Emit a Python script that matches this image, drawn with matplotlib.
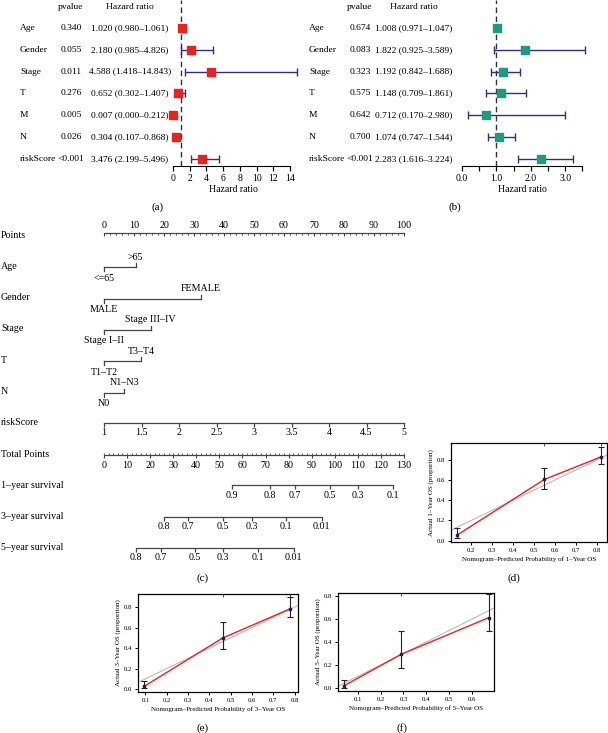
import numpy as np
import matplotlib
matplotlib.use('Agg')
import matplotlib.pyplot as plt
import matplotlib.transforms as mtransforms

plt.rcParams['font.family'] = ['Liberation Serif', 'DejaVu Serif']

# ---- forest plot data
variables = ['Age', 'Gender', 'Stage', 'T', 'M', 'N', 'riskScore']
a_pvalue = ['0.340', '0.055', '0.011', '0.276', '0.005', '0.026', '<0.001']
a_hr = [1.020, 2.180, 4.588, 0.652, 0.007, 0.304, 3.476]
a_low = [0.980, 0.985, 1.418, 0.302, 0.000, 0.107, 2.199]
a_high = [1.061, 4.826, 14.843, 1.407, 0.212, 0.868, 5.496]

b_pvalue = ['0.674', '0.083', '0.323', '0.575', '0.642', '0.700', '<0.001']
b_hr = [1.008, 1.822, 1.192, 1.148, 0.712, 1.074, 2.283]
b_low = [0.971, 0.925, 0.842, 0.709, 0.170, 0.747, 1.616]
b_high = [1.047, 3.589, 1.688, 1.861, 2.980, 1.544, 3.224]

# ---- nomogram data (points)
cat_names = ['Age', 'Gender', 'Stage', 'T', 'N']
cat_low = ['<=65', 'MALE', 'Stage I\u2013II', 'T1\u2013T2', 'N0']
cat_high = ['>65', 'FEMALE', 'Stage III\u2013IV', 'T3\u2013T4', 'N1\u2013N3']
cat_points = [10.5, 32.3, 15.6, 12.3, 6.7]
risk_ticks = [1, 1.5, 2, 2.5, 3, 3.5, 4, 4.5, 5]
surv_names = ['1\u2013year survival', '3\u2013year survival', '5\u2013year survival']
surv_labels = [['0.9', '0.8', '0.7', '0.5', '0.3', '0.1'],
               ['0.8', '0.7', '0.5', '0.3', '0.1', '0.01'],
               ['0.8', '0.7', '0.5', '0.3', '0.1', '0.01']]
surv_total = [[55.5, 71.9, 82.8, 97.9, 110.1, 125.2],
              [26.0, 36.4, 51.6, 64.1, 78.7, 94.3],
              [13.9, 24.6, 39.4, 51.4, 66.7, 82.3]]

# ---- calibration data
cal_pred = [[0.131, 0.548, 0.82], [0.093, 0.462, 0.78], [0.037, 0.29, 0.676]]
cal_obs = [[0.053, 0.605, 0.83], [0.025, 0.497, 0.783], [0.015, 0.293, 0.615]]
cal_lo = [[0.03, 0.508, 0.76], [0.01, 0.39, 0.70], [0.0, 0.176, 0.498]]
cal_hi = [[0.12, 0.723, 0.926], [0.081, 0.65, 0.894], [0.067, 0.498, 0.82]]
cal_year = ['1', '3', '5']

W, H = 608, 733
fig = plt.figure(figsize=(W / 100, H / 100), dpi=100)
FS = 6.8


def px_axes(l, t, r, b):
    return fig.add_axes([l / W, 1 - b / H, (r - l) / W, (b - t) / H])


def forest(ax, hr, low, high, pvals, color, xlab, xpv, xhr):
    n = len(variables)
    y = np.arange(n)
    ax.set_ylim(n - 1 + 0.32, -1.28)
    ax.errorbar(hr, y, xerr=[np.array(hr) - np.array(low), np.array(high) - np.array(hr)],
                fmt='none', ecolor='#2E2E8A', elinewidth=1, capsize=3, capthick=1,
                clip_on=False, zorder=2)
    ax.scatter(hr, y, marker='s', s=26, color=color, zorder=3, clip_on=False)
    ax.axvline(1, color='#333333', ls=(0, (4, 2.5)), lw=1, zorder=1)
    for s in ['top', 'right', 'left']:
        ax.spines[s].set_visible(False)
    ax.set_yticks([])
    ax.tick_params(axis='x', direction='out', length=3.5, width=0.9, labelsize=7, pad=2)
    ax.set_xlabel('Hazard ratio', fontsize=7, labelpad=2)
    tr = mtransforms.blended_transform_factory(fig.transFigure, ax.transData)
    ax.text(xpv / W, -0.96, 'pvalue', transform=tr, ha='center', va='center', fontsize=FS)
    ax.text(xhr / W, -0.96, 'Hazard ratio', transform=tr, ha='center', va='center', fontsize=FS)
    for i, v in enumerate(variables):
        ax.text(xlab / W, i, v, transform=tr, ha='left', va='center', fontsize=FS)
        ax.text(xpv / W, i, pvals[i], transform=tr, ha='center', va='center', fontsize=FS)
        ax.text(xhr / W, i, '%.3f (%.3f\u2013%.3f)' % (hr[i], low[i], high[i]),
                transform=tr, ha='center', va='center', fontsize=FS)


# (a)
axa = px_axes(168.8, 0, 298.4, 166)
axa.set_xlim(-0.5, 15)
forest(axa, a_hr, a_low, a_high, a_pvalue, '#E8231F', 20, 71, 130)
axa.set_xticks(np.arange(0, 15, 2))
axa.spines['bottom'].set_bounds(0, 14)

# (b)
axb = px_axes(455.1, 0, 589.3, 166)
axb.set_xlim(-0.2, 3.7)
forest(axb, b_hr, b_low, b_high, b_pvalue, '#1E9A7D', 309, 360, 414)
axb.set_xticks(np.arange(0, 3.6, 0.5))
axb.set_xticklabels(['0.0', '', '1.0', '', '2.0', '', '3.0', ''])
axb.spines['bottom'].set_bounds(0, 3.5)

# (c) nomogram
axc = px_axes(0, 212, 420, 568)
row_px = 31.3
p = 1 / row_px  # one pixel in row units
axc.set_xlim(-104 / 3, 316 / 3)
axc.set_ylim((568 - 235) / row_px, (212 - 235) / row_px)
axc.axis('off')
xl = -103 / 3
lw = 0.9
fs = 7.2
row_names = ['Points'] + cat_names + ['riskScore', 'Total Points'] + surv_names
for i, nm in enumerate(row_names):
    axc.text(xl, i, nm, ha='left', va='center', fontsize=fs)

# points axis
y0 = -2 * p
axc.plot([0, 100], [y0, y0], color='#444444', lw=lw)
axc.vlines(np.arange(0, 101, 2), y0, y0 + 2 * p, color='#444444', lw=0.6)
axc.vlines(np.arange(0, 101, 10), y0, y0 + 3 * p, color='#444444', lw=0.8)
for v in range(0, 101, 10):
    axc.text(v, y0 - 8 * p, str(v), ha='center', va='center', fontsize=fs)

# categorical rows
for i in range(len(cat_names)):
    r = i + 1 + p
    axc.plot([0, cat_points[i]], [r, r], color='#444444', lw=lw)
    axc.plot([0, 0], [r, r + 4 * p], color='#444444', lw=lw)
    axc.plot([cat_points[i]] * 2, [r, r - 4 * p], color='#444444', lw=lw)
    axc.text(0, r + 11 * p, cat_low[i], ha='center', va='center', fontsize=fs)
    axc.text(cat_points[i], r - 10 * p, cat_high[i], ha='center', va='center', fontsize=fs)

# riskScore
r = 6
rs_x = [(v - 1) * 25 for v in risk_ticks]
axc.plot([rs_x[0], rs_x[-1]], [r, r], color='#444444', lw=lw)
axc.vlines(rs_x, r, r + 4 * p, color='#444444', lw=lw)
for v, x in zip(risk_ticks, rs_x):
    axc.text(x, r + 10 * p, ('%g' % v), ha='center', va='center', fontsize=fs)

# total points
r = 7 + p
tp = 100 / 130
axc.plot([0, 100], [r, r], color='#444444', lw=lw)
axc.vlines(np.arange(0, 131, 2) * tp, r, r - 2.5 * p, color='#444444', lw=0.6)
axc.vlines(np.arange(0, 131, 10) * tp, r, r + 3 * p, color='#444444', lw=0.8)
for v in range(0, 131, 10):
    axc.text(v * tp, r + 10 * p, str(v), ha='center', va='center', fontsize=fs)

# survival rows
for k in range(3):
    r = 8 + k
    xs = [t * tp for t in surv_total[k]]
    axc.plot([xs[0], xs[-1]], [r, r], color='#444444', lw=lw)
    axc.vlines(xs, r, r + 4 * p, color='#444444', lw=lw)
    for lab, x in zip(surv_labels[k], xs):
        axc.text(x, r + 10 * p, lab, ha='center', va='center', fontsize=fs)


# calibration
def calib(ax, k, xlim, ylim, xt):
    pr, ob = cal_pred[k], cal_obs[k]
    ax.set_xlim(*xlim)
    ax.set_ylim(*ylim)
    ax.plot([0, 1], [0, 1], color='#BBBBBB', lw=0.8, zorder=1)
    ax.plot(pr, ob, color='#F0201A', lw=1.0, zorder=2)
    ax.errorbar(pr, ob, yerr=[np.array(ob) - np.array(cal_lo[k]), np.array(cal_hi[k]) - np.array(ob)],
                fmt='none', ecolor='#222222', elinewidth=0.8, capsize=2, capthick=0.8, zorder=3)
    ax.scatter(pr, ob, marker='s', s=4, color='#1B1B7A', zorder=4)
    # rug of predicted values at top
    ax.vlines(pr[1:], ylim[1] - 0.03, ylim[1], color='#333333', lw=0.6)
    ax.set_xticks(xt)
    ax.set_yticks(np.arange(0, 0.81, 0.2))
    ax.xaxis.set_major_formatter(matplotlib.ticker.FormatStrFormatter('%.1f'))
    ax.yaxis.set_major_formatter(matplotlib.ticker.FormatStrFormatter('%.1f'))
    ax.tick_params(direction='out', length=2.5, width=0.7, labelsize=4.8, pad=1.5)
    for s in ax.spines.values():
        s.set_linewidth(0.9)
    ax.set_xlabel('Nomogram\u2013Predicted Probability of %s\u2013Year OS' % cal_year[k],
                  fontsize=5.0, labelpad=3)
    ax.set_ylabel('Actual %s\u2013Year OS (proportion)' % cal_year[k], fontsize=5.0, labelpad=2)


axd = px_axes(451, 443, 607, 542)
calib(axd, 0, (0.103, 0.847), (-0.014, 0.966), np.arange(0.2, 0.81, 0.1))
axe = px_axes(138, 594, 298, 692)
calib(axe, 1, (0.065, 0.816), (-0.029, 0.927), np.arange(0.1, 0.81, 0.1))
axf = px_axes(338, 593, 494, 691)
calib(axf, 2, (0.012, 0.698), (-0.029, 0.83), np.arange(0.1, 0.61, 0.1))

# panel labels
for lab, x, y in [('(a)', 158, 207), ('(b)', 455, 207), ('(c)', 203, 578),
                  ('(d)', 514, 578), ('(e)', 203, 728), ('(f)', 402, 728)]:
    fig.text(x / W, 1 - y / H, lab, ha='center', va='center', fontsize=8)

fig.savefig('out.png', dpi=100)
